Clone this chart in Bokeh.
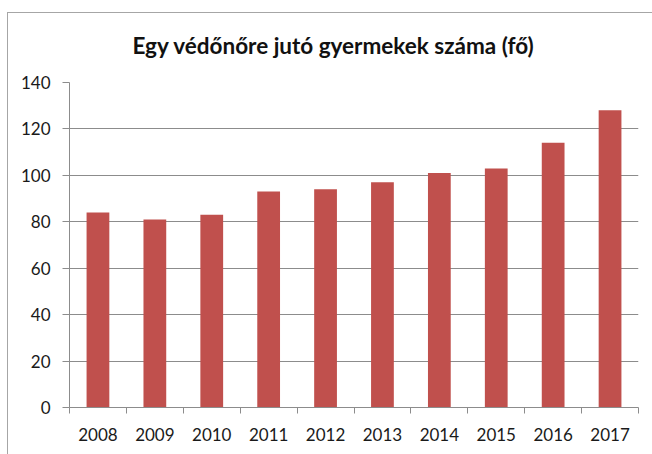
from bokeh.plotting import figure
from bokeh.models import FixedTicker, Range1d, InlineStyleSheet
from bokeh.embed import file_html
from bokeh.resources import INLINE

years = ["2008", "2009", "2010", "2011", "2012", "2013", "2014", "2015", "2016", "2017"]
values = [84, 81, 83, 93, 94, 97, 101, 103, 114, 128]
y_ticks = [0, 20, 40, 60, 80, 100, 120, 140]
title_text = "Egy védőnőre jutó gyermekek száma (fő)"

FONT = "Lato"
GRAY = "#8c8c8c"

xs = [i + 0.5 for i in range(len(years))]

border_css = InlineStyleSheet(css="""
:host::after {
  content: '';
  position: absolute;
  left: 7px; top: 12px; right: -20px; bottom: -20px;
  border: 1px solid #a6a6a6;
  pointer-events: none;
}
""")

p = figure(width=652, height=454, output_backend="svg", toolbar_location=None,
           x_range=Range1d(0, len(years)), y_range=Range1d(0, 140),
           min_border_left=69, min_border_right=14, min_border_top=82, min_border_bottom=47,
           stylesheets=[border_css])

p.title.text = title_text
p.title.text_font = FONT
p.title.text_font_style = "bold"
p.title.text_font_size = "22.5px"
p.title.text_color = "#111111"
p.title.align = "left"
p.title.offset = 63
p.title.standoff = 48

p.vbar(x=xs, top=values, width=0.4, fill_color="#C0504D", line_color=None)

p.outline_line_color = None
p.xgrid.grid_line_color = None
p.ygrid.grid_line_color = GRAY
p.ygrid.grid_line_width = 1
p.ygrid.ticker = FixedTicker(ticks=y_ticks)

ya = p.yaxis[0]
ya.ticker = FixedTicker(ticks=y_ticks)
ya.axis_line_color = GRAY
ya.major_tick_line_color = GRAY
ya.major_tick_out = 7
ya.major_tick_in = 0
ya.minor_tick_line_color = None
ya.major_label_text_font = FONT
ya.major_label_text_font_size = "17px"
ya.major_label_text_color = "#1a1a1a"
ya.major_label_standoff = 12

xa = p.xaxis[0]
xa.ticker = FixedTicker(ticks=xs, minor_ticks=list(range(len(years) + 1)))
xa.major_label_overrides = {x: y for x, y in zip(xs, years)}
xa.axis_line_color = GRAY
xa.major_tick_line_color = None
xa.major_tick_out = 6
xa.major_tick_in = 0
xa.minor_tick_line_color = GRAY
xa.minor_tick_out = 6
xa.minor_tick_in = 0
xa.major_label_text_font = FONT
xa.major_label_text_font_size = "17px"
xa.major_label_text_color = "#1a1a1a"
xa.major_label_standoff = 14

open("out.html", "w").write(file_html(p, INLINE))
